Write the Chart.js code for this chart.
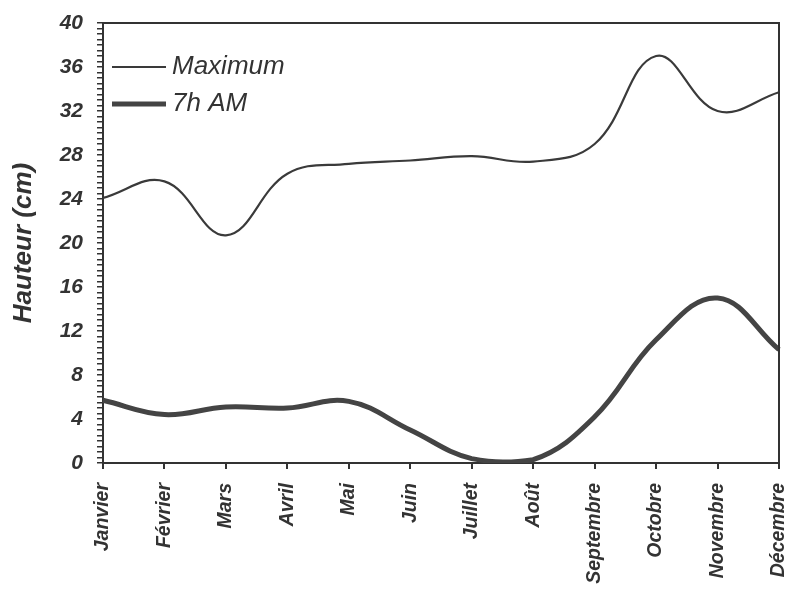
<!DOCTYPE html>
<html>
<head>
<meta charset="utf-8">
<script src="https://cdn.jsdelivr.net/npm/chart.js@4"></script>
<style>
  html,body{margin:0;padding:0;background:#fff;}
  #wrap{width:787px;height:589px;position:relative;}
</style>
</head>
<body>
<div id="wrap"><canvas id="c"></canvas></div>
<script>
const months=['Janvier','Février','Mars','Avril','Mai','Juin','Juillet','Août','Septembre','Octobre','Novembre','Décembre'];
const maximum=[24.1,25.6,20.7,26.3,27.2,27.5,27.9,27.4,29.0,37.0,32.0,33.7];
const am7=[5.7,4.4,5.1,5.0,5.6,3.0,0.4,0.3,4.2,11.2,15.0,10.3];
const yMajor=4, yMinor=0.5;

const INK='#333';
const FONT='"Liberation Sans", Arial, sans-serif';

// frame on top/right + legend inside plot
const frame={id:'frame',afterDraw(ch){
  const a=ch.chartArea,x=ch.ctx;
  x.save();
  x.strokeStyle=INK;x.lineWidth=2;
  x.beginPath();x.moveTo(a.left,a.top);x.lineTo(a.right,a.top);x.lineTo(a.right,a.bottom);x.stroke();
  // legend
  const L=[[maximum,'Maximum',2,67],[am7,'7h AM',5,104]];
  x.font='italic 26px '+FONT;x.textBaseline='middle';x.fillStyle=INK;
  ch.data.datasets.forEach((d,i)=>{
    const y=L[i][3];
    x.strokeStyle=d.borderColor;x.lineWidth=L[i][2];
    x.beginPath();x.moveTo(a.left+9,y);x.lineTo(a.left+63,y);x.stroke();
    x.fillText(d.label,a.left+69,y);
  });
  x.restore();
}};

new Chart(document.getElementById('c'),{
  type:'line',
  data:{labels:months,datasets:[
    {label:'Maximum',data:maximum,borderColor:'#3a3a3a',borderWidth:2.2,pointRadius:0,tension:0.4,fill:false},
    {label:'7h AM',data:am7,borderColor:'#444',borderWidth:5,pointRadius:0,tension:0.4,fill:false}
  ]},
  options:{
    responsive:true,maintainAspectRatio:false,animation:false,
    layout:{padding:{top:23,right:8,left:0,bottom:0}},
    plugins:{legend:{display:false},tooltip:{enabled:false}},
    scales:{
      x:{type:'category',offset:false,
        afterFit:s=>{s.height=126;s.paddingLeft=0;s.paddingRight=0;},
        border:{display:true,color:INK,width:2},
        grid:{drawOnChartArea:false,color:INK,tickLength:6,lineWidth:2},
        ticks:{color:INK,maxRotation:90,minRotation:90,autoSkip:false,padding:14,
          font:{family:FONT,size:19.5,style:'italic',weight:'bold'}}},
      y:{min:0,max:40,
        afterFit:s=>{s.width=103;s.paddingTop=0;s.paddingBottom=0;},
        border:{display:true,color:INK,width:2},
        grid:{drawOnChartArea:false,color:INK,tickLength:6,lineWidth:1.5},
        ticks:{stepSize:yMinor,autoSkip:false,color:INK,padding:14,
          callback:v=>v%yMajor===0?String(v):'',
          font:{family:FONT,size:21,style:'italic',weight:'bold'}},
        title:{display:true,text:'Hauteur (cm)',color:INK,padding:{top:8,bottom:0},
          font:{family:FONT,size:26,style:'italic',weight:'bold'}}}
    }
  },
  plugins:[frame]
});
</script>
</body>
</html>
